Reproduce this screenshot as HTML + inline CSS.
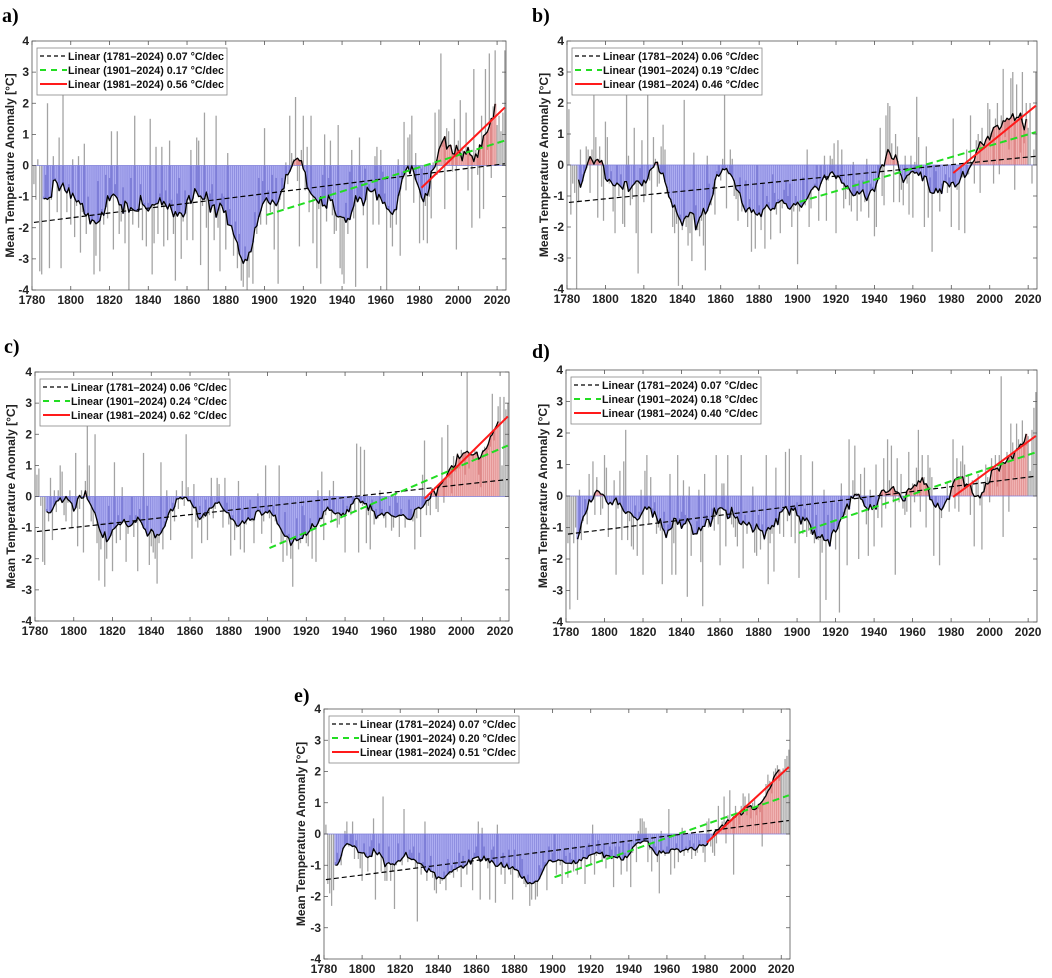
<!DOCTYPE html>
<html><head><meta charset="utf-8">
<style>
html,body{margin:0;padding:0;background:#fff;}
svg{display:block;font-family:"Liberation Sans",Arial,sans-serif;}
</style></head>
<body>
<svg id="fig" width="1052" height="978" viewBox="0 0 1052 978" xmlns="http://www.w3.org/2000/svg">
<rect x="0" y="0" width="1052" height="978" fill="#fff"/>
</svg>
<script>
// ---- data: annual mean temperature anomalies 1781-2024 (°C) ----
const startYear = 1781;
const xTicks = [1780,1800,1820,1840,1860,1880,1900,1920,1940,1960,1980,2000,2020];
const yTicks = [-4,-3,-2,-1,0,1,2,3,4];
const trendLabelsA = ["Linear (1781\u20132024) 0.07 \u00b0C/dec","Linear (1901\u20132024) 0.17 \u00b0C/dec","Linear (1981\u20132024) 0.56 \u00b0C/dec"];
const trendLabelsB = ["Linear (1781\u20132024) 0.06 \u00b0C/dec","Linear (1901\u20132024) 0.19 \u00b0C/dec","Linear (1981\u20132024) 0.46 \u00b0C/dec"];
const trendLabelsC = ["Linear (1781\u20132024) 0.06 \u00b0C/dec","Linear (1901\u20132024) 0.24 \u00b0C/dec","Linear (1981\u20132024) 0.62 \u00b0C/dec"];
const trendLabelsD = ["Linear (1781\u20132024) 0.07 \u00b0C/dec","Linear (1901\u20132024) 0.18 \u00b0C/dec","Linear (1981\u20132024) 0.40 \u00b0C/dec"];
const trendLabelsE = ["Linear (1781\u20132024) 0.07 \u00b0C/dec","Linear (1901\u20132024) 0.20 \u00b0C/dec","Linear (1981\u20132024) 0.51 \u00b0C/dec"];
const trendStarts = [1781,1901,1981];

const annualA = [
-0.6,-1.1,0.2,-3.4,-3.5,-1.0,-0.3,2.0,-3.3,-1.1,
0.3,-0.4,-1.5,0.9,-3.3,2.4,-0.8,-1.5,-0.6,-1.9,
0.2,-2.3,-1.3,0.3,-2.8,-1.5,0.7,-2.2,-1.0,-1.9,
-1.6,-3.5,-2.9,-0.5,-3.4,-1.4,-1.9,-0.3,-1.7,-0.4,
1.1,-2.7,-0.6,1.1,-2.2,-1.8,-0.7,-2.5,-1.2,-4.0,
-0.4,-1.9,1.6,-1.4,-2.0,-0.6,-2.4,-1.2,-2.6,-1.2,
1.5,-3.5,-2.5,0.6,-2.2,-0.9,0.6,-2.6,-0.8,-2.4,
0.8,-1.1,-2.2,-3.7,-0.9,-0.4,-3.0,-1.8,-0.8,-2.4,
-1.1,0.5,-2.4,-0.9,0.9,0.8,-3.2,-1.3,1.7,-2.0,
-4.0,-0.9,-0.6,-2.4,1.6,-2.0,-3.4,-0.9,-1.0,-2.7,
0.4,-1.4,-1.9,-2.9,-1.8,-3.3,-2.2,-3.7,-3.9,-2.6,
-4.0,-3.6,-2.8,-3.8,-1.5,-2.2,-0.4,-1.9,-0.5,1.2,
-1.9,-0.8,-1.5,-0.3,-2.7,-0.4,-3.8,-1.1,-0.4,-1.4,
0.1,-0.6,1.6,0.4,0.2,2.2,-0.5,-2.6,0.5,1.6,
-0.8,0.6,-1.5,1.6,-2.5,-1.0,-3.3,-1.4,-3.8,-0.3,
1.0,-1.8,-0.4,0.8,-1.6,-2.2,-2.1,1.3,-3.3,-3.5,
-3.8,-1.2,-2.2,-0.2,0.5,-1.7,-3.9,-0.7,0.9,-0.5,
-1.6,-0.1,-3.3,-0.6,-0.8,-1.9,0.3,0.6,-1.9,0.5,
-0.2,-0.9,-4.0,-1.3,-2.0,-2.6,-1.5,-1.9,0.2,-2.9,
-0.2,1.4,-0.8,0.9,1.0,1.6,-1.2,0.4,-0.6,-2.5,
-0.1,-2.4,-1.3,-2.5,-1.0,-1.7,0.1,1.7,-0.3,1.8,
3.6,0.6,-1.4,1.2,1.1,0.6,-0.2,1.5,-2.7,0.8,
2.1,0.6,0.4,1.7,-0.8,0.3,-2.0,3.1,0.5,-0.3,
-1.7,1.6,-1.4,3.1,0.5,3.6,-0.4,1.9,3.7,1.3,
1.6,1.1,1.7,3.7];

const annualB = [
1.8,-1.6,-0.6,-0.9,-4.0,-1.2,0.5,-0.3,0.0,0.6,
0.5,-0.9,0.5,2.3,0.9,-1.7,0.6,-0.7,-1.8,1.4,
0.9,-0.6,-0.2,-1.5,-2.2,0.0,-1.0,-0.3,-1.9,-2.0,
2.4,0.3,-1.3,-1.1,1.2,-2.2,-3.5,-0.1,0.8,-1.2,
-1.0,2.4,-0.5,-2.2,0.9,0.2,-0.7,-0.6,0.6,1.3,
0.5,-0.9,-1.0,-1.2,-2.0,-2.2,-1.9,-3.9,-1.6,-2.1,
2.1,-2.0,-2.6,-2.2,-3.1,0.4,-1.3,-2.1,-2.3,-1.8,
-2.6,-3.4,0.3,-0.6,-1.3,-0.7,-1.6,-0.2,0.0,-0.5,
0.2,2.4,-1.4,-0.3,0.5,0.2,-1.0,-1.1,-1.8,-0.4,
-1.5,-1.3,-0.5,-2.0,-1.1,-2.8,-1.5,-2.7,0.0,-1.3,
-2.1,-0.6,-2.7,-1.0,-1.2,-2.4,-0.3,-0.9,-1.6,-1.1,
-2.2,-1.4,-0.8,-0.5,-1.0,-0.6,-2.0,-1.5,-1.0,-3.2,
-1.5,-1.2,-0.4,-1.3,0.5,-2.0,-1.4,-0.8,-0.6,0.0,
-1.8,0.0,-0.4,0.3,-1.8,-0.5,0.3,0.2,0.7,-2.2,
0.8,-0.3,0.5,-1.4,-1.1,-0.8,-1.3,-1.5,0.1,-0.6,
-1.8,-0.5,-1.5,-0.5,-1.2,0.2,-1.7,-0.6,-0.7,-2.3,
-2.0,0.0,1.2,-1.0,-1.3,1.6,2.0,1.9,0.7,-1.2,
1.0,0.6,-1.2,-0.8,-1.3,0.3,-0.6,-1.6,0.3,-1.7,
0.1,2.2,0.9,-0.3,-0.5,-2.0,0.6,-1.7,-0.4,-2.8,
0.0,-0.2,-0.9,-1.5,-0.6,-0.5,-0.3,-0.9,-0.4,-2.0,
1.5,-0.2,-0.8,-2.1,0.0,-0.4,-2.2,0.5,-0.3,1.6,
0.1,-0.6,0.8,1.0,-0.9,1.2,0.5,0.8,2.0,1.8,
0.9,-0.6,1.5,2.0,-0.3,1.6,3.1,0.9,1.2,0.5,
2.8,3.0,-0.8,2.6,1.5,0.4,3.0,0.7,2.0,1.2,
2.0,-0.6,0.5,3.0];

const annualC = [
0.7,0.9,-0.3,-2.1,-2.2,-0.4,-0.8,0.6,-1.4,0.2,
-0.5,0.2,1.0,0.8,-0.6,-0.8,-0.2,0.2,-1.0,-0.5,
1.4,-1.6,-0.4,0.2,-1.8,0.5,2.4,1.0,-0.8,-0.9,
2.0,-1.5,-2.7,-1.7,-1.3,-2.9,-2.0,-0.3,-0.8,-2.4,
1.1,-1.5,-0.6,-1.4,0.3,-0.8,-2.1,-1.2,-0.6,0.0,
-1.3,-0.6,-2.4,-0.4,-0.9,1.4,-1.0,-0.3,-2.2,-1.6,
-1.8,-2.0,-2.8,-1.5,1.1,-1.7,-0.8,0.2,-0.6,-1.4,
-0.2,-0.8,0.2,-0.4,-0.1,0.5,-0.3,2.0,0.3,-0.1,
-2.0,0.4,-0.8,-1.0,-0.3,-1.5,-0.7,-0.1,-1.4,-0.6,
0.6,-0.7,-0.4,0.6,0.4,-0.3,-1.0,0.6,-0.2,-0.9,
-1.9,-0.6,-1.4,-1.0,0.5,-1.7,-0.4,-1.8,-0.9,-0.4,
-0.1,-0.8,-1.5,-0.5,0.1,-0.4,-1.2,-0.8,1.0,-0.3,
-0.7,-1.5,-0.3,-0.8,-0.9,1.0,-1.5,-2.1,-0.5,-1.9,
-1.2,-2.0,-2.9,-1.3,-0.7,-1.7,-1.5,-0.3,-0.6,-1.5,
-1.6,-0.7,-2.0,-1.0,-2.1,0.2,-0.8,0.8,-1.4,-0.6,
-0.3,0.2,-0.8,0.5,-0.6,-1.0,-0.9,-0.7,-0.1,-1.8,
-0.3,-0.4,-0.6,0.0,-0.5,1.7,-1.8,1.6,-0.3,1.5,
-1.5,-0.6,-1.7,-0.1,-0.9,-0.4,-0.7,0.2,-0.4,-0.7,
-1.0,-0.5,-0.3,-1.1,-1.0,0.1,-0.2,-1.3,-0.4,-0.6,
-1.0,-0.7,-0.1,-0.4,-0.8,-1.7,-0.7,-0.4,-1.3,0.7,
1.8,-0.6,-0.3,-0.6,0.1,0.2,-0.4,-0.5,0.3,1.9,
-0.2,0.3,2.3,0.6,0.1,1.3,0.8,1.4,0.9,1.5,
1.2,0.7,4.0,0.9,1.4,1.2,1.5,1.3,0.7,0.3,
1.5,1.6,1.3,1.5,1.6,3.3,1.8,2.2,2.9,3.2,
1.0,3.2,2.8,3.0];

const annualD = [
-1.5,-3.6,-1.2,-1.5,-1.0,-3.3,0.2,-1.4,-0.8,-0.1,
-0.9,0.7,-0.2,1.1,-0.6,0.6,0.1,-0.6,-0.4,1.3,
0.9,-1.3,-0.2,-0.3,0.5,-2.5,-0.4,0.8,-1.4,1.1,
2.1,-1.4,-0.8,-1.6,-1.7,-0.3,-1.9,-0.5,0.2,-2.5,
0.8,1.3,-0.9,0.6,-0.4,-0.2,-1.2,-1.0,-1.1,-2.8,
-0.5,-1.2,-0.9,0.7,-2.5,-1.5,-2.5,1.3,-0.7,-0.5,
0.5,-0.6,-3.2,0.3,-1.9,-1.1,-1.2,-0.8,0.2,-2.1,
-3.5,0.7,-0.6,-1.0,-0.8,-0.4,-1.1,1.3,-0.9,-2.2,
0.4,0.4,-1.6,1.3,-0.5,-0.9,-1.0,-1.3,-1.6,-0.5,
1.3,-2.3,-0.6,-1.2,-0.9,-1.0,0.3,-1.8,-1.9,-0.6,
-1.7,-0.9,-1.4,1.3,-2.8,-1.5,-1.2,-2.4,0.9,-0.7,
-1.2,-0.4,-1.3,1.4,-0.8,1.5,-1.3,-0.3,-1.5,-0.2,
-2.6,1.3,-1.2,-0.4,-1.3,-1.1,-1.2,1.1,-1.5,-0.6,
-1.4,-4.0,-1.8,0.2,-3.3,-0.6,-1.4,-0.2,-0.8,-1.7,
-0.2,-3.7,0.4,-0.5,-0.6,-2.2,1.8,0.0,0.5,1.6,
0.1,-2.0,0.7,-0.2,0.9,-0.9,-1.9,0.2,-0.4,-1.6,
1.0,-0.7,-0.1,-1.0,1.2,-0.4,1.8,0.5,1.6,-0.2,
-2.5,1.2,-0.2,0.7,-0.4,-0.6,-0.5,1.4,-1.0,0.4,
-0.2,0.9,2.1,-0.5,1.3,0.6,-1.0,1.3,0.9,0.6,
-1.9,0.0,-0.3,-2.2,-0.7,-0.4,-0.2,0.4,-0.5,0.3,
1.8,-0.4,1.2,-0.5,1.1,1.6,1.0,0.3,0.7,-0.6,
0.5,-1.6,0.5,0.7,-0.3,-1.7,0.4,1.0,0.6,-0.2,
1.2,0.9,1.3,0.3,1.3,3.8,-1.3,0.5,1.4,-0.5,
2.3,1.7,0.6,2.3,1.8,1.5,2.4,1.2,1.6,1.9,
0.8,2.1,2.8,3.3];

const annualE = [
0.3,-1.6,-1.9,-2.3,-1.8,-0.9,-0.6,-0.8,-1.0,-0.5,
0.1,0.4,-0.4,0.0,0.4,-0.8,-0.2,-0.8,-1.1,-1.5,
-0.3,-0.6,-1.2,-0.4,-0.2,0.5,-2.1,-0.6,-0.3,-1.2,
1.2,-1.5,-1.5,-0.4,-1.5,-1.2,-2.4,-1.0,-0.3,-0.9,
-1.0,0.8,-0.6,-0.9,-0.5,-0.6,-0.4,-1.1,-2.8,-0.6,
-1.3,-0.9,0.4,-1.5,-1.0,-0.7,-1.4,-1.8,-1.9,-1.4,
-1.6,-1.5,-1.2,-1.8,-0.8,-1.3,-1.0,-1.4,-0.9,-1.2,
-0.6,-1.7,-0.7,-1.0,-1.3,-0.5,-0.9,-1.8,-0.6,-0.4,
0.4,-2.1,0.2,-0.4,-0.8,-1.1,-2.1,-0.5,-0.4,-2.2,
0.3,-1.0,-1.3,-0.6,-1.6,-0.9,-0.5,-1.3,-2.1,-0.5,
-1.1,-1.4,-0.7,-0.8,-1.6,-1.7,-1.3,-2.3,-2.1,-1.5,
-2.1,-2.0,-1.0,-1.1,-0.6,-0.9,-1.8,-0.4,-0.8,-0.6,
0.0,-1.3,-0.8,-1.0,-1.6,-0.5,-0.7,-1.4,-0.6,-0.8,
-1.2,-0.4,-1.3,-0.8,-1.1,-0.5,-1.6,-0.4,-0.3,-1.0,
0.3,-1.3,-0.7,-0.2,-0.5,-0.9,-0.3,-1.1,-0.8,-0.4,
-0.5,-1.7,-0.4,-0.8,-0.4,-1.3,-0.2,-0.6,-1.2,-0.3,
-1.7,-0.6,-0.3,-0.9,0.1,0.5,0.5,0.4,0.2,-0.9,
-0.5,-1.2,-0.3,-0.4,-0.9,-1.9,0.1,-0.5,-0.7,-0.4,
0.8,-1.3,-0.5,-1.1,-0.3,-0.9,-0.6,0.2,-0.7,-0.4,
-0.6,-0.2,-0.8,-0.3,-0.7,-0.6,-0.2,-0.4,-0.6,-0.9,
0.4,0.5,-0.4,-0.6,-0.7,-0.3,0.9,0.2,0.4,1.2,
-0.3,0.6,1.4,0.4,-1.3,0.9,0.6,0.3,0.9,1.3,
1.2,0.6,1.3,0.5,1.0,1.1,0.6,0.8,0.7,-0.4,
1.2,1.6,1.9,1.7,1.3,2.0,2.1,2.2,1.7,2.0,
2.1,2.4,2.5,2.7];

// ---- layout ----
const panels = [
 {id:'a', data:annualA, labels:trendLabelsA, L:32, R:506, T:41, B:290, letterX:2, letterY:22, yTitleX:14},
 {id:'b', data:annualB, labels:trendLabelsB, L:567, R:1037, T:41, B:289, letterX:532, letterY:22, yTitleX:548},
 {id:'c', data:annualC, labels:trendLabelsC, L:35, R:509, T:372, B:621, letterX:4, letterY:353, yTitleX:15},
 {id:'d', data:annualD, labels:trendLabelsD, L:566, R:1037, T:370, B:622, letterX:532, letterY:358, yTitleX:547},
 {id:'e', data:annualE, labels:trendLabelsE, L:324, R:790, T:709, B:959, letterX:294, letterY:702, yTitleX:305}
];
const NS = 'http://www.w3.org/2000/svg';
const svg = document.getElementById('fig');
function mk(tag, attrs, parent){
  const e = document.createElementNS(NS, tag);
  for (const k in attrs) e.setAttribute(k, attrs[k]);
  (parent||svg).appendChild(e);
  return e;
}
function movingMean(d, half){
  const out = [];
  for (let i=0;i<d.length;i++){
    if (i<half || i>=d.length-half){ out.push(null); continue; }
    let s=0; for (let j=i-half;j<=i+half;j++) s+=d[j];
    out.push(s/(2*half+1));
  }
  return out;
}
function linfit(years, vals){
  const n=years.length; let sx=0,sy=0,sxx=0,sxy=0;
  for(let i=0;i<n;i++){sx+=years[i];sy+=vals[i];sxx+=years[i]*years[i];sxy+=years[i]*vals[i];}
  const b=(n*sxy-sx*sy)/(n*sxx-sx*sx); const a=(sy-b*sx)/n; return [a,b];
}

panels.forEach(p=>{
  const g = mk('g', {});
  
  
  const xScale = yr => p.L + (yr-1780)*(p.R-p.L)/(2024.6-1780);
  const yScale = v => p.T + (4 - v)*(p.B-p.T)/8;
  const yw = (p.R-p.L)/(2024.6-1780);
  const y0 = yScale(0);
  const smooth = movingMean(p.data, 5);

  const letter = mk('text', {x:p.letterX, y:p.letterY, 'font-family':'"Liberation Serif",serif','font-weight':'bold','font-size':'20',fill:'#000'}, g);
  letter.textContent = p.id + ')';
  
  

  const annG = mk('g', {}, g);
  
  
  p.data.forEach((v,i)=>{
    const yr = startYear+i;
    const cx = xScale(yr);
    const vv = Math.max(-4, Math.min(4, v));
    const r = mk('rect', {x:(cx-yw*0.33).toFixed(2), y:Math.min(yScale(vv),y0).toFixed(2), width:(yw*0.66).toFixed(2), height:Math.abs(yScale(vv)-y0).toFixed(2), fill:'#a3a3a3'}, annG);
    
    
  });
  const smG = mk('g', {}, g);
  
  
  smooth.forEach((s,i)=>{
    if (s===null) return;
    const yr = startYear+i;
    const cx = xScale(yr);
    const pos = s>=0;
    const r = mk('rect', {x:(cx-yw/2).toFixed(2), y:Math.min(yScale(s),y0).toFixed(2), width:(yw+0.2).toFixed(2), height:Math.abs(yScale(s)-y0).toFixed(2), fill: pos?'#df8888':'#7e7ed8'}, smG);
    
    
    const a = p.data[i];
    if ((a>=0)===pos){
      const lim = pos ? Math.min(a,s) : Math.max(a,s);
      const r2 = mk('rect', {x:(cx-yw*0.33).toFixed(2), y:Math.min(yScale(lim),y0).toFixed(2), width:(yw*0.66).toFixed(2), height:Math.abs(yScale(lim)-y0).toFixed(2), fill: pos?'#f0b4b4':'#aeaef2'}, smG);
      
      
    }
  });
  const zl = mk('line', {x1:p.L, x2:xScale(2024.5), y1:y0, y2:y0, stroke:'#7e7ed8','stroke-width':0.8}, g);
  
  

  let dstr='';
  smooth.forEach((s,i)=>{ if(s===null) return; dstr += (dstr?'L':'M') + xScale(startYear+i).toFixed(2)+','+yScale(s).toFixed(2); });
  const sl = mk('path', {d:dstr, fill:'none', stroke:'#000','stroke-width':1.3,'stroke-linejoin':'round'}, g);
  
  

  const styles = [{c:'#000',w:1.2,da:'5,3'},{c:'#22dd22',w:2,da:'7,4'},{c:'#ff1a1a',w:2,da:''}];
  const tnames = ['trend-1781-2024','trend-1901-2024','trend-1981-2024'];
  trendStarts.forEach((ys,k)=>{
    const yrs=[], vals=[];
    p.data.forEach((v,i)=>{ const yr=startYear+i; if(yr>=ys){yrs.push(yr);vals.push(v);} });
    const [a,b] = linfit(yrs, vals);
    const attrs = {x1:xScale(ys), y1:yScale(a+b*ys), x2:xScale(2024), y2:yScale(a+b*2024), stroke:styles[k].c, 'stroke-width':styles[k].w};
    if (styles[k].da) attrs['stroke-dasharray']=styles[k].da;
    const ln = mk('line', attrs, g);
    
    
  });

  const box = mk('rect', {x:p.L, y:p.T, width:p.R-p.L, height:p.B-p.T, fill:'none', stroke:'#555','stroke-width':0.8}, g);
  
  
  xTicks.forEach(t=>{
    const x = xScale(t);
    const tk = mk('path', {d:`M${x},${p.B}v-4M${x},${p.T}v4`, stroke:'#555','stroke-width':0.8}, g);
    
    
    const lb = mk('text', {x:x, y:p.B+14, 'text-anchor':'middle','font-size':'12','font-weight':'bold',fill:'#222'}, g);
    lb.textContent = t;
    
    
  });
  yTicks.forEach(t=>{
    const y = yScale(t);
    const tk = mk('path', {d:`M${p.L},${y}h4M${p.R},${y}h-4`, stroke:'#555','stroke-width':0.8}, g);
    
    
    const lb = mk('text', {x:p.L-3, y:y+4, 'text-anchor':'end','font-size':'12','font-weight':'bold',fill:'#222'}, g);
    lb.textContent = t;
    
    
  });
  const cy = (p.T+p.B)/2;
  const yt = mk('text', {x:p.yTitleX, y:cy, transform:`rotate(-90 ${p.yTitleX} ${cy})`, 'text-anchor':'middle','font-size':'12','font-weight':'bold',fill:'#222'}, g);
  yt.textContent = 'Mean Temperature Anomaly [\u00b0C]';
  
  

  const lg = mk('g', {}, g);
  
  
  const lx = p.L+5, ly = p.T+7;
  mk('rect', {x:lx, y:ly, width:190, height:47, fill:'#fff', stroke:'#888','stroke-width':0.8}, lg);
  p.labels.forEach((txt,k)=>{
    const ry = ly+8+k*14;
    const sa = {x1:lx+3, x2:lx+30, y1:ry, y2:ry, stroke:styles[k].c, 'stroke-width':styles[k].w};
    if (styles[k].da) sa['stroke-dasharray'] = k===0?'4,3':'6,5';
    const s = mk('line', sa, lg);
    
    
    const tx = mk('text', {x:lx+31, y:ry+4, 'font-size':'10.8','font-weight':'bold',fill:'#111',textLength:156,lengthAdjust:'spacingAndGlyphs'}, lg);
    tx.textContent = txt;
    
    
  });
});
</script>
</body></html>
